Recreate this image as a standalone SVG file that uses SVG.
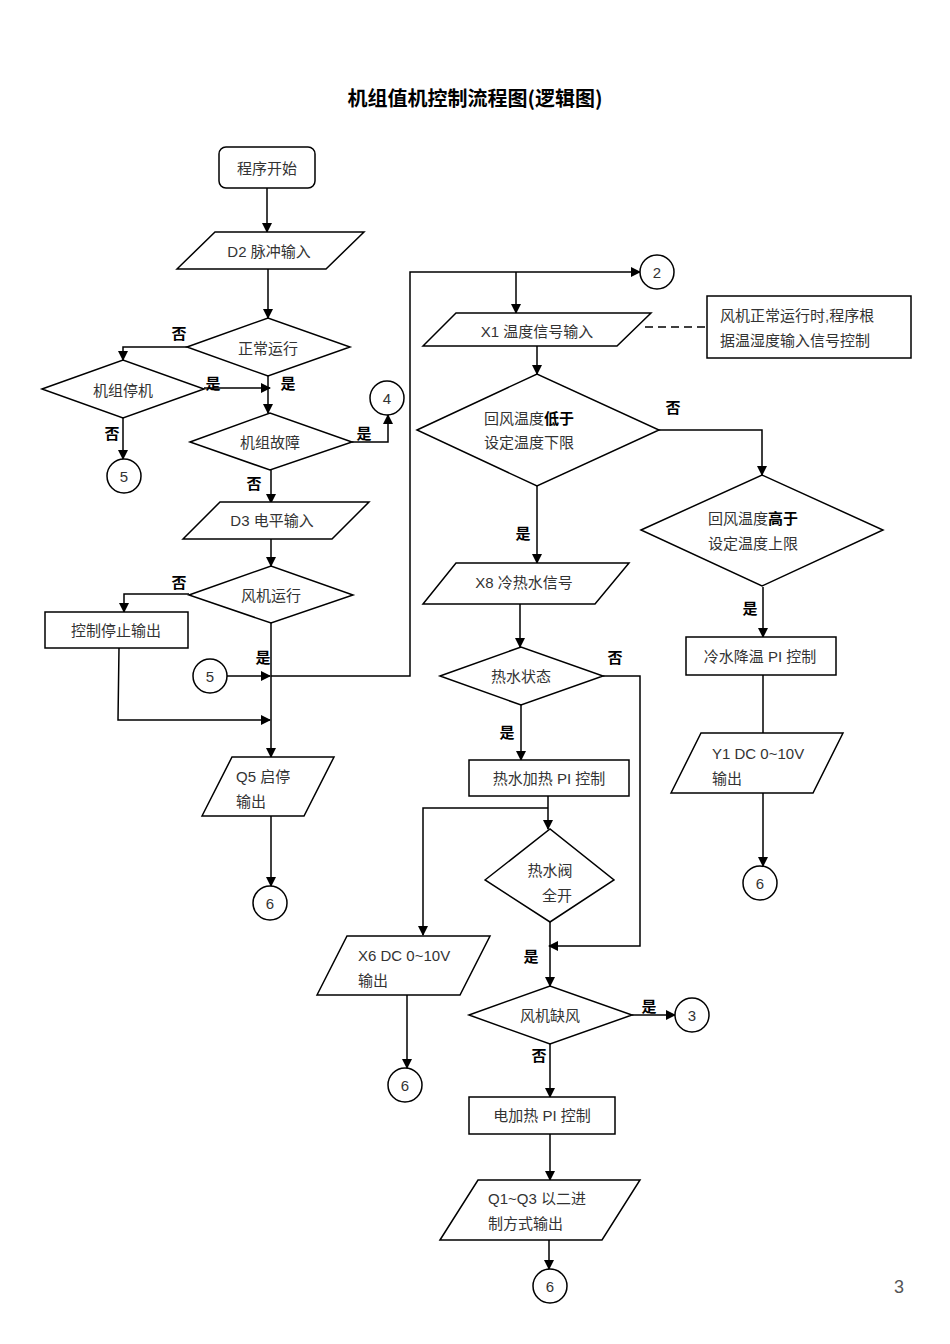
<svg xmlns="http://www.w3.org/2000/svg" width="950" height="1344" viewBox="0 0 950 1344">
<style>
.s{fill:#fff;stroke:#000;stroke-width:1.5}
.t{font-family:"Liberation Sans","Noto Sans CJK SC",sans-serif;font-size:15px;fill:#333;text-anchor:middle;dominant-baseline:central}
.tl{font-family:"Liberation Sans","Noto Sans CJK SC",sans-serif;font-size:15px;fill:#333;dominant-baseline:central}
.b{font-family:"Noto Sans CJK SC",sans-serif;font-size:15px;font-weight:bold;fill:#000;text-anchor:middle;dominant-baseline:central}
.c{fill:none;stroke:#000;stroke-width:1.5}
</style>
<defs><marker id="a" markerWidth="10" markerHeight="10" refX="9" refY="5" orient="auto" markerUnits="userSpaceOnUse"><path d="M0,0 L10,5 L0,10 z" fill="#000"/></marker></defs>
<rect width="950" height="1344" fill="#fff"/>
<text x="475" y="97" font-family="Noto Sans CJK SC,sans-serif" font-size="20" font-weight="bold" text-anchor="middle" dominant-baseline="central">机组值机控制流程图(逻辑图)</text>
<text x="899" y="1287" font-family="Liberation Sans,sans-serif" font-size="18" fill="#555" text-anchor="middle" dominant-baseline="central">3</text>

<g id="connectors">
<path class="c" d="M267,188V232" marker-end="url(#a)"/>
<path class="c" d="M268,269V318" marker-end="url(#a)"/>
<path class="c" d="M187,347H123V360" marker-end="url(#a)"/>
<path class="c" d="M204,388H270" marker-end="url(#a)"/>
<path class="c" d="M268,376V413" marker-end="url(#a)"/>
<path class="c" d="M123,418V459" marker-end="url(#a)"/>
<path class="c" d="M352,442H388V415" marker-end="url(#a)"/>
<path class="c" d="M271,470V503" marker-end="url(#a)"/>
<path class="c" d="M271,539V566" marker-end="url(#a)"/>
<path class="c" d="M189,594H124V612" marker-end="url(#a)"/>
<path class="c" d="M271,623V757" marker-end="url(#a)"/>
<path class="c" d="M227,676H270" marker-end="url(#a)"/>
<path class="c" d="M271,676H410V272H640" marker-end="url(#a)"/>
<path class="c" d="M119,648L118,720H270" marker-end="url(#a)"/>
<path class="c" d="M271,816V886" marker-end="url(#a)"/>
<path class="c" d="M516,272V313" marker-end="url(#a)"/>
<path class="c" d="M645,327H706" stroke-dasharray="8,5"/>
<path class="c" d="M537,346V374" marker-end="url(#a)"/>
<path class="c" d="M659,430H762V475" marker-end="url(#a)"/>
<path class="c" d="M763,587V637" marker-end="url(#a)"/>
<path class="c" d="M763,675V733"/>
<path class="c" d="M763,793V866" marker-end="url(#a)"/>
<path class="c" d="M537,486V563" marker-end="url(#a)"/>
<path class="c" d="M520,604V647" marker-end="url(#a)"/>
<path class="c" d="M603,676H640V946H549" marker-end="url(#a)"/>
<path class="c" d="M521,705V760" marker-end="url(#a)"/>
<path class="c" d="M548,796V829" marker-end="url(#a)"/>
<path class="c" d="M548,808H423V935" marker-end="url(#a)"/>
<path class="c" d="M550,922V986" marker-end="url(#a)"/>
<path class="c" d="M407,995V1068" marker-end="url(#a)"/>
<path class="c" d="M632,1015H675" marker-end="url(#a)"/>
<path class="c" d="M550,1044V1097" marker-end="url(#a)"/>
<path class="c" d="M550,1134V1180" marker-end="url(#a)"/>
<path class="c" d="M549,1240V1269" marker-end="url(#a)"/>
</g>

<g id="labels">
<text class="b" x="179" y="332">否</text>
<text class="b" x="213" y="382">是</text>
<text class="b" x="288" y="382">是</text>
<text class="b" x="112" y="432">否</text>
<text class="b" x="364" y="432">是</text>
<text class="b" x="254" y="482">否</text>
<text class="b" x="179" y="581">否</text>
<text class="b" x="263" y="656">是</text>
<text class="b" x="673" y="406">否</text>
<text class="b" x="523" y="532">是</text>
<text class="b" x="750" y="607">是</text>
<text class="b" x="615" y="656">否</text>
<text class="b" x="507" y="731">是</text>
<text class="b" x="531" y="955">是</text>
<text class="b" x="649" y="1005">是</text>
<text class="b" x="539" y="1054">否</text>
</g>

<g id="start"><rect class="s" x="219" y="147" width="96" height="41" rx="7"/><text class="t" x="267" y="168">程序开始</text></g>
<g id="d2"><polygon class="s" points="177,269 215,232 364,232 326,269"/><text class="t" x="269" y="251">D2 脉冲输入</text></g>
<g id="normal"><polygon class="s" points="187,347 268,318 350,347 268,376"/><text class="t" x="268" y="348">正常运行</text></g>
<g id="stop"><polygon class="s" points="42,389 123,360 204,389 123,418"/><text class="t" x="123" y="390">机组停机</text></g>
<g id="c5a"><circle class="s" cx="124" cy="476" r="17"/><text class="t" x="124" y="476">5</text></g>
<g id="fault"><polygon class="s" points="190,442 270,413 352,442 270,470"/><text class="t" x="270" y="442">机组故障</text></g>
<g id="c4"><circle class="s" cx="387" cy="398" r="17"/><text class="t" x="387" y="398">4</text></g>
<g id="d3"><polygon class="s" points="183,539 220,502 369,502 332,539"/><text class="t" x="272" y="520">D3 电平输入</text></g>
<g id="fanrun"><polygon class="s" points="189,595 271,566 353,595 271,623"/><text class="t" x="271" y="595">风机运行</text></g>
<g id="ctrlstop"><rect class="s" x="45" y="612" width="143" height="36"/><text class="t" x="116" y="630">控制停止输出</text></g>
<g id="c5b"><circle class="s" cx="210" cy="676" r="17"/><text class="t" x="210" y="676">5</text></g>
<g id="q5"><polygon class="s" points="202,816 232,757 334,757 304,816"/><text class="tl" x="236" y="776">Q5  启停</text><text class="tl" x="236" y="801">输出</text></g>
<g id="c6a"><circle class="s" cx="270" cy="903" r="17"/><text class="t" x="270" y="903">6</text></g>

<g id="c2"><circle class="s" cx="657" cy="272" r="17"/><text class="t" x="657" y="272">2</text></g>
<g id="x1"><polygon class="s" points="423,346 456,313 651,313 617,346"/><text class="t" x="537" y="331">X1 温度信号输入</text></g>
<g id="note"><rect class="s" x="707" y="296" width="204" height="62"/><text class="tl" x="720" y="315">风机正常运行时,程序根</text><text class="tl" x="720" y="340">据温湿度输入信号控制</text></g>
<g id="low"><polygon class="s" points="417,430 537,374 659,430 537,486"/><text class="tl" x="484" y="418">回风温度<tspan font-weight="bold" fill="#000">低于</tspan></text><text class="tl" x="484" y="442">设定温度下限</text></g>
<g id="high"><polygon class="s" points="641,530 762,475 883,530 762,586"/><text class="tl" x="708" y="518">回风温度<tspan font-weight="bold" fill="#000">高于</tspan></text><text class="tl" x="708" y="543">设定温度上限</text></g>
<g id="cool"><rect class="s" x="686" y="637" width="150" height="38"/><text class="t" x="760" y="656">冷水降温 PI 控制</text></g>
<g id="y1"><polygon class="s" points="671,793 701,733 843,733 813,793"/><text class="tl" x="712" y="753">Y1 DC 0~10V</text><text class="tl" x="712" y="778">输出</text></g>
<g id="c6b"><circle class="s" cx="760" cy="883" r="17"/><text class="t" x="760" y="883">6</text></g>
<g id="x8"><polygon class="s" points="423,604 456,563 629,563 595,604"/><text class="t" x="524" y="582">X8 冷热水信号</text></g>
<g id="hotstate"><polygon class="s" points="440,676 521,647 603,676 521,705"/><text class="t" x="521" y="676">热水状态</text></g>
<g id="hotpi"><rect class="s" x="469" y="760" width="160" height="36"/><text class="t" x="549" y="778">热水加热 PI 控制</text></g>
<g id="valve"><polygon class="s" points="485,880 550,829 614,880 550,922"/><text class="t" x="550" y="870">热水阀</text><text class="t" x="557" y="895">全开</text></g>
<g id="x6"><polygon class="s" points="317,995 347,936 490,936 460,995"/><text class="tl" x="358" y="955">X6 DC 0~10V</text><text class="tl" x="358" y="980">输出</text></g>
<g id="c6c"><circle class="s" cx="405" cy="1085" r="17"/><text class="t" x="405" y="1085">6</text></g>
<g id="lackair"><polygon class="s" points="469,1015 550,986 632,1015 550,1044"/><text class="t" x="550" y="1015">风机缺风</text></g>
<g id="c3"><circle class="s" cx="692" cy="1015" r="17"/><text class="t" x="692" y="1015">3</text></g>
<g id="elec"><rect class="s" x="469" y="1097" width="146" height="37"/><text class="t" x="542" y="1115">电加热 PI 控制</text></g>
<g id="q13"><polygon class="s" points="440,1240 478,1180 640,1180 602,1240"/><text class="tl" x="488" y="1198">Q1~Q3  以二进</text><text class="tl" x="488" y="1223">制方式输出</text></g>
<g id="c6d"><circle class="s" cx="550" cy="1286" r="17"/><text class="t" x="550" y="1286">6</text></g>
</svg>
